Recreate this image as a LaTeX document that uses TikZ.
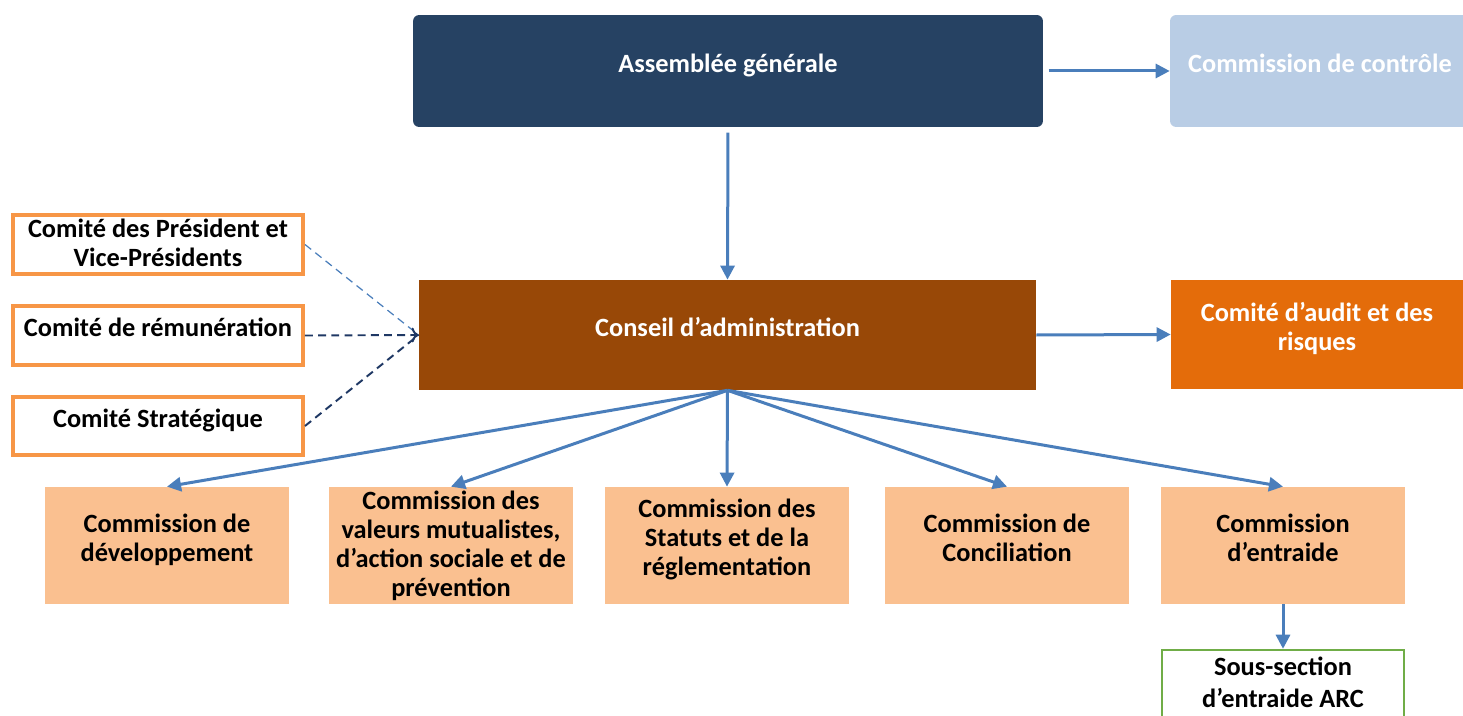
\documentclass[tikz,border=0pt]{standalone}
\usepackage{fontspec}
\setmainfont{Carlito}
\usetikzlibrary{arrows.meta}

\definecolor{agnavy}{HTML}{264263}
\definecolor{ccblue}{HTML}{B9CDE5}
\definecolor{cabrown}{HTML}{984807}
\definecolor{auditorange}{HTML}{E46C0A}
\definecolor{comiteorange}{HTML}{F79646}
\definecolor{peach}{HTML}{FAC090}
\definecolor{linkblue}{HTML}{4A7EBB}
\definecolor{dashnavy}{HTML}{1F3864}
\definecolor{ssgreen}{HTML}{70AD47}

\begin{document}
\begin{tikzpicture}[x=0.02cm,y=-0.02cm,
    every node/.style={font=\bfseries\fontsize{15}{16.5}\selectfont,align=center,text depth=9pt},
    topbox/.style={rounded corners=3.5pt,minimum width=12.6cm,minimum height=2.24cm,text=white},
    comite/.style={draw=comiteorange,line width=0.08cm,fill=white,minimum width=5.8cm,minimum height=1.18cm},
    commission/.style={fill=peach,minimum width=4.88cm,minimum height=2.34cm},
    full/.style={text depth=2pt,inner ysep=1pt},
    link/.style={draw=linkblue,line width=0.06cm,-{Triangle[length=8pt,width=8pt]}},
    dotlink/.style={dashed,dash pattern=on 4.5pt off 3pt}]
    \useasboundingbox(0,0)rectangle(1463,716);
    \clip(0,0)rectangle(1463,716);

    % top row
    \node[topbox,fill=agnavy](ag)at(728,71){Assemblée générale};
    \node[topbox,fill=ccblue,minimum width=6cm](cc)at(1320,71){Commission de contrôle};

    % conseil and audit
    \node[fill=cabrown,text=white,minimum width=12.34cm,minimum height=2.2cm](ca)at(727.5,335){Conseil d’administration};
    \node[fill=auditorange,text=white,minimum width=5.84cm,minimum height=2.18cm](audit)at(1317,334.5){Comité d’audit et des\\risques};

    % comites
    \node[comite,full](cpvp)at(158,244.5){Comité des Président et\\Vice-Présidents};
    \node[comite](crem)at(158,335.5){Comité de rémunération};
    \node[comite](cstrat)at(158,426){Comité Stratégique};

    % commissions
    \node[commission](dev)at(167,545.5){Commission de\\développement};
    \node[commission,full](val)at(451,545.5){Commission des\\valeurs mutualistes,\\d’action sociale et de\\prévention};
    \node[commission](stat)at(727,545.5){Commission des\\Statuts et de la\\réglementation};
    \node[commission](conc)at(1007,545.5){Commission de\\Conciliation};
    \node[commission](entr)at(1283,545.5){Commission\\d’entraide};
    \node[draw=ssgreen,line width=0.05cm,fill=white,minimum width=4.84cm,minimum height=1.6cm,
          font=\bfseries\fontsize{15}{18.5}\selectfont](arc)at(1283,690){Sous-section\\d’entraide ARC};

    % arrows
    \draw[link,shorten <=3pt](ag.east)--(cc.west);
    \draw[link,shorten <=3pt](ag.south)--(ca.north);
    \draw[link](ca.east)--(audit.west);
    \foreach \c in {dev,val,stat,conc,entr}
        \draw[link](ca.south)--(\c.north);
    \draw[link](entr.south)--(arc.north);

    % dashed links
    \draw[dotlink,draw=linkblue,line width=0.7pt](cpvp.east)--(ca.west);
    \draw[dotlink,draw=dashnavy,line width=1.1pt,->](crem.east)--(ca.west);
    \draw[dotlink,draw=dashnavy,line width=1.1pt](cstrat.east)--(ca.west);
\end{tikzpicture}
\end{document}
